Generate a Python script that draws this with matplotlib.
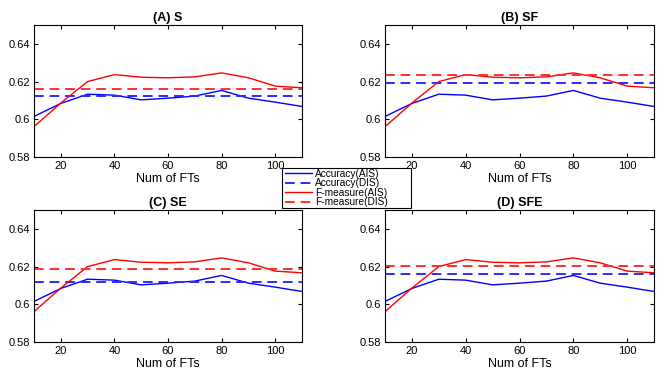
import matplotlib
matplotlib.use("Agg")
import matplotlib.pyplot as plt
from matplotlib.lines import Line2D
from matplotlib.patches import Rectangle

plt.rcParams['font.family'] = ['Liberation Sans', 'DejaVu Sans']

num_fts = [10, 20, 30, 40, 50, 60, 70, 80, 90, 100, 110]
acc_ais = [0.6015, 0.6084, 0.6133, 0.6128, 0.6103, 0.6112, 0.6123, 0.6153, 0.6112, 0.6091, 0.6068]
fm_ais = [0.5961, 0.6086, 0.6200, 0.6237, 0.6223, 0.6220, 0.6225, 0.6246, 0.6220, 0.6176, 0.6167]

titles = ["(A) S", "(B) SF", "(C) SE", "(D) SFE"]
acc_dis = [0.6126, 0.6195, 0.6116, 0.6160]
fm_dis = [0.6162, 0.6234, 0.6186, 0.6204]

W, H = 664, 376
fig = plt.figure(figsize=(W / 100, H / 100), dpi=100)

# axes boxes in pixel coords: (left, top, right, bottom)
boxes = [(34, 25, 302, 157), (385, 25, 654, 157),
         (34, 210, 302, 342), (385, 210, 654, 342)]

dash = (0, (5, 3))
for i, (l, t, r, b) in enumerate(boxes):
    ax = fig.add_axes([l / W, 1 - b / H, (r - l) / W, (b - t) / H])
    ax.plot(num_fts, acc_ais, color='#0000ff', lw=1.0)
    ax.axhline(acc_dis[i], color='#2b2bff', lw=1.4, ls=dash)
    ax.plot(num_fts, fm_ais, color='#ff0000', lw=1.0)
    ax.axhline(fm_dis[i], color='#ff3030', lw=1.4, ls=dash)
    ax.set_xlim(10, 110)
    ax.set_ylim(0.58, 0.65)
    ax.set_xticks([20, 40, 60, 80, 100])
    ax.set_yticks([0.58, 0.60, 0.62, 0.64])
    ax.set_yticklabels(['0.58', '0.6', '0.62', '0.64'])
    ax.tick_params(direction='in', length=3, labelsize=8, top=True, right=True, pad=3)
    ax.set_xlabel('Num of FTs', fontsize=9, labelpad=1)
    ax.set_title(titles[i], fontsize=9, fontweight='bold', pad=3)
    for s in ax.spines.values():
        s.set_linewidth(0.8)

# legend frame (MATLAB-style, wide right padding)
lx0, ly0, lx1, ly1 = 282, 168, 411, 208
fig.patches.append(Rectangle((lx0 / W, 1 - ly1 / H), (lx1 - lx0) / W, (ly1 - ly0) / H,
                             transform=fig.transFigure, facecolor='white',
                             edgecolor='black', linewidth=0.8, zorder=5))

handles = [
    Line2D([], [], color='#0000ff', lw=1.0),
    Line2D([], [], color='#2b2bff', lw=1.4, ls=dash),
    Line2D([], [], color='#ff0000', lw=1.0),
    Line2D([], [], color='#ff3030', lw=1.4, ls=dash),
]
labels = ['Accuracy(AIS)', 'Accuracy(DIS)', 'F-measure(AIS)', 'F-measure(DIS)']
leg = fig.legend(handles, labels, loc='upper left',
                 bbox_to_anchor=((lx0 + 3) / W, 1 - (ly0 + 1) / H),
                 fontsize=7.3, frameon=False,
                 handlelength=2.7, handletextpad=0.3, labelspacing=-0.05,
                 borderpad=0.0, borderaxespad=0)
leg.set_zorder(6)

fig.savefig('out.png', dpi=100)
